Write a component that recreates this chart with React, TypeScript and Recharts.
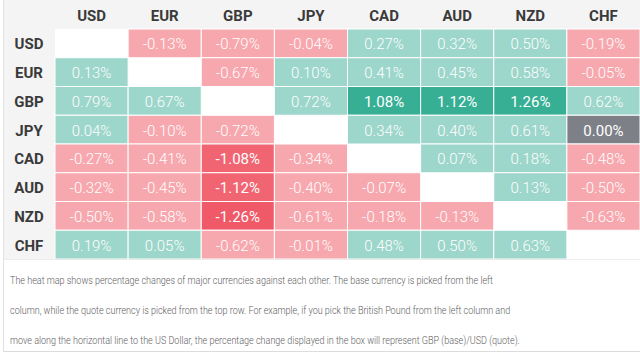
import { ReferenceArea, Scatter, ScatterChart, XAxis, YAxis } from "recharts";

const currencies = ["USD", "EUR", "GBP", "JPY", "CAD", "AUD", "NZD", "CHF"];

// rows = base currency, columns = quote currency (percent change)
const usdRow = [null, -0.13, -0.79, -0.04, 0.27, 0.32, 0.5, -0.19];
const eurRow = [0.13, null, -0.67, 0.1, 0.41, 0.45, 0.58, -0.05];
const gbpRow = [0.79, 0.67, null, 0.72, 1.08, 1.12, 1.26, 0.62];
const jpyRow = [0.04, -0.1, -0.72, null, 0.34, 0.4, 0.61, 0.0];
const cadRow = [-0.27, -0.41, -1.08, -0.34, null, 0.07, 0.18, -0.48];
const audRow = [-0.32, -0.45, -1.12, -0.4, -0.07, null, 0.13, -0.5];
const nzdRow = [-0.5, -0.58, -1.26, -0.61, -0.18, -0.13, null, -0.63];
const chfRow = [0.19, 0.05, -0.62, -0.01, 0.48, 0.5, 0.63, null];

const rows = [usdRow, eurRow, gbpRow, jpyRow, cadRow, audRow, nzdRow, chfRow];

const noteLines = [
  "The heat map shows percentage changes of major currencies against each other. The base currency is picked from the left",
  "column, while the quote currency is picked from the top row. For example, if you pick the British Pound from the left column and",
  "move along the horizontal line to the US Dollar, the percentage change displayed in the box will represent GBP (base)/USD (quote).",
];

const CHART_W = 640;
const HEADER_H = 29;
const LABEL_W = 55;
const PLOT_H = 230;
const CELL_W = (CHART_W - LABEL_W) / currencies.length;
const CELL_H = PLOT_H / currencies.length;
const centers = currencies.map((_, i) => i + 0.5);

type Cell = { x: number; y: number; value: number };

const cells: Cell[] = [];
rows.forEach((row, i) => {
  row.forEach((v, j) => {
    if (v !== null) cells.push({ x: j + 0.5, y: i + 0.5, value: v });
  });
});

function cellColor(v: number) {
  if (v === 0) return "#7e8088";
  if (v >= 1) return "#37af95";
  if (v > 0) return "#9dd6ca";
  if (v <= -1) return v < -1.2 ? "#ef5968" : "#f16572";
  return "#f7a8ae";
}

function CellShape(props: any) {
  const { cx, cy, payload } = props;
  const v = payload.value as number;
  const strong = Math.abs(v) >= 1 || v === 0;
  return (
    <g>
      <rect
        x={cx - CELL_W / 2}
        y={cy - CELL_H / 2}
        width={CELL_W}
        height={CELL_H}
        fill={cellColor(v)}
        stroke="#fff"
        strokeWidth={1}
      />
      <text
        x={cx}
        y={cy + 1}
        textAnchor="middle"
        dominantBaseline="central"
        fill="#fff"
        fontSize={15}
        fontWeight={strong ? 400 : 300}
      >
        {v.toFixed(2)}%
      </text>
    </g>
  );
}

function TopTick(props: any) {
  const { x, payload } = props;
  return (
    <text x={x} y={HEADER_H / 2 + 1} textAnchor="middle" dominantBaseline="central" fill="#3a3a3a" fontSize={15} fontWeight={700}>
      {currencies[Math.floor(payload.value)]}
    </text>
  );
}

function LeftTick(props: any) {
  const { y, payload } = props;
  return (
    <text x={29} y={y + 1} textAnchor="middle" dominantBaseline="central" fill="#3a3a3a" fontSize={15} fontWeight={700}>
      {currencies[Math.floor(payload.value)]}
    </text>
  );
}

export default function App() {
  return (
    <div style={{ position: "absolute", left: 0, top: 0, width: 640, height: 356, background: "#fff", fontFamily: "Roboto, sans-serif", overflow: "hidden" }}>
      <div style={{ position: "absolute", left: 3, top: 0, width: 640, height: HEADER_H + PLOT_H, background: "#f4f4f4", borderLeft: "1px solid #e2e2e2" }} />
      <div style={{ position: "absolute", left: 0, top: 0 }}>
        <ScatterChart width={CHART_W} height={HEADER_H + PLOT_H + 1} margin={{ top: 0, right: 0, bottom: 1, left: 0 }}>
          <XAxis
            type="number"
            dataKey="x"
            orientation="top"
            domain={[0, currencies.length]}
            ticks={centers}
            interval={0}
            height={HEADER_H}
            axisLine={false}
            tickLine={false}
            tick={<TopTick />}
          />
          <YAxis
            type="number"
            dataKey="y"
            domain={[0, currencies.length]}
            reversed
            ticks={centers}
            interval={0}
            width={LABEL_W}
            axisLine={false}
            tickLine={false}
            tick={<LeftTick />}
          />
          <ReferenceArea x1={0} x2={currencies.length} y1={0} y2={currencies.length} fill="#fff" fillOpacity={1} stroke="none" />
          <Scatter data={cells} shape={CellShape} isAnimationActive={false} />
        </ScatterChart>
      </div>
      <div
        style={{
          position: "absolute",
          left: 3,
          top: HEADER_H + PLOT_H,
          width: 640,
          height: 93,
          boxSizing: "border-box",
          borderLeft: "1px solid #e2e2e2",
          borderTop: "1px solid #ececec",
          borderBottom: "1px solid #dcdcdc",
          paddingTop: 6,
          paddingLeft: 6,
          color: "#5e5e5e",
          fontSize: 11,
          fontWeight: 300,
          lineHeight: "30px",
          whiteSpace: "nowrap",
        }}
      >
        {noteLines.map((l, i) => (
          <div key={i} style={{ transform: "scaleX(0.82)", transformOrigin: "left center" }}>
            {l}
          </div>
        ))}
      </div>
    </div>
  );
}
